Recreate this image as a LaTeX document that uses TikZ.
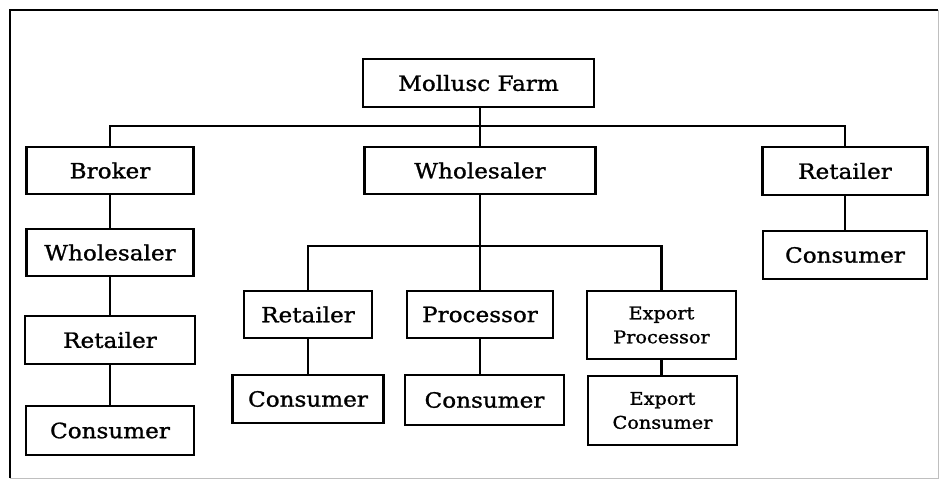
\documentclass[tikz,border=0pt]{standalone}
\usepackage{fontspec}
\setmainfont[FakeStretch=1.1,FakeBold=1.2]{DejaVu Serif}
\begin{document}
\begin{tikzpicture}[x=1pt,y=-1pt,
  box/.style={draw=black, line width=2.4pt, inner sep=0pt, font=\fontsize{21}{24}\selectfont},
  smallbox/.style={box, align=center, font=\fontsize{17.5}{24}\selectfont},
  link/.style={line width=2.4pt}]
\useasboundingbox (0,0) rectangle (943,482);
\fill[white] (0,0) rectangle (943,482);
% frame
\draw[black!25, line width=1pt] (938,10) -- (938,478) -- (10,478);
\draw[black, line width=2pt] (10,478) -- (10,10) -- (938,10);
% nodes
\node[box, minimum width=231, minimum height=48] (farm) at (478.5,83) {Mollusc Farm};
\node[box, minimum width=167, minimum height=47] (broker) at (110,170.5) {Broker};
\node[box, minimum width=231, minimum height=47] (whole) at (480,170.5) {Wholesaler};
\node[box, minimum width=165, minimum height=48] (retR) at (845,171) {Retailer};
\node[box, minimum width=164, minimum height=48] (conR) at (845,255) {Consumer};
\node[box, minimum width=167, minimum height=47] (wholeL) at (110,252.5) {Wholesaler};
\node[box, minimum width=170, minimum height=48] (retL) at (110,340) {Retailer};
\node[box, minimum width=168, minimum height=49] (conL) at (110,430.5) {Consumer};
\node[box, minimum width=128, minimum height=47] (retM) at (308,314.5) {Retailer};
\node[box, minimum width=151, minimum height=48] (conM) at (308,399) {Consumer};
\node[box, minimum width=146, minimum height=47] (proc) at (480,314.5) {Processor};
\node[box, minimum width=159, minimum height=50] (conP) at (484.5,400) {Consumer};
\node[smallbox, minimum width=149, minimum height=68] (expP) at (661.5,325) {Export\\Processor};
\node[smallbox, minimum width=149, minimum height=69] (expC) at (662.5,410.5) {Export\\Consumer};
% bus coordinates
\coordinate (bus) at (480,126);
\coordinate (bus2) at (480,246);
% connectors
\draw[link] (farm.south -| bus) -- (whole.north -| bus);
\draw[link] (broker.north) |- (bus) -| (retR.north);
\draw[link] (broker.south) -- (wholeL.north);
\draw[link] (wholeL.south) -- (retL.north);
\draw[link] (retL.south) -- (conL.north);
\draw[link] (retR.south) -- (conR.north);
\draw[link] (whole.south) -- (proc.north);
\draw[link] (retM.north) |- (bus2) -| (expP.north);
\draw[link] (retM.south) -- (conM.north);
\draw[link] (proc.south) -- (proc.south |- conP.north);
\draw[link] (expP.south) -- (expP.south |- expC.north);
\end{tikzpicture}
\end{document}
